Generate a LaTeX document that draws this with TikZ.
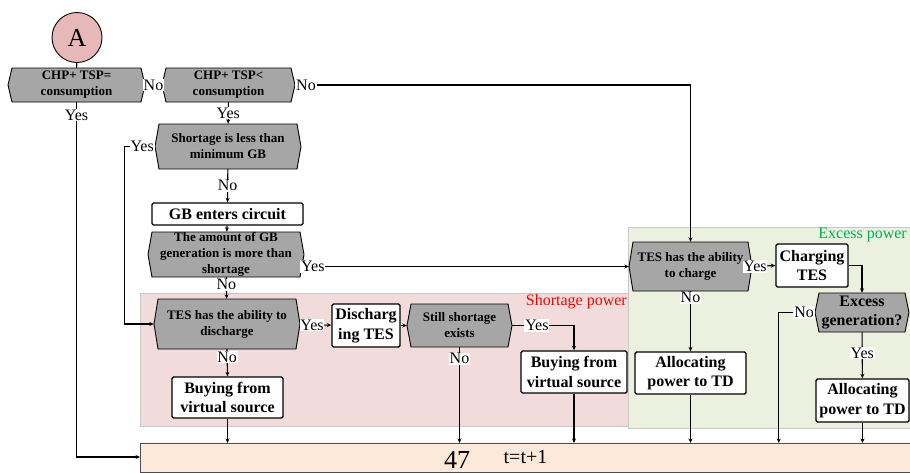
\documentclass[tikz,border=0pt]{standalone}
\usepackage{fontspec}
\setmainfont{Liberation Serif}
\usetikzlibrary{arrows.meta}

\definecolor{hexgray}{HTML}{A6A6A6}
\definecolor{shortbg}{HTML}{F2DCDB}
\definecolor{excessbg}{HTML}{EBF1DE}
\definecolor{stepbg}{HTML}{FDE9D9}
\definecolor{startbg}{HTML}{E6B9B8}
\definecolor{regionedge}{HTML}{C8C8C8}
\definecolor{excessgreen}{HTML}{00B050}

\newcommand{\hexfont}{\fontsize{13}{16}\selectfont\bfseries}
\newcommand{\boxfont}{\fontsize{16}{19.5}\selectfont\bfseries}

% decision block: [font], name, x, y, width, height, text
\newcommand{\hexbox}[7][\hexfont]{%
  \filldraw[fill=hexgray, draw=black, line width=0.9pt]
    ({#3-#5/2},#4) -- ({#3-#5/2+4},{#4-#6/2}) -- ({#3+#5/2-4},{#4-#6/2})
    -- ({#3+#5/2},#4) -- ({#3+#5/2-4},{#4+#6/2}) -- ({#3-#5/2+4},{#4+#6/2}) -- cycle;
  \node[hextext, font=#1, minimum width=#5pt, minimum height=#6pt] (#2) at (#3,#4) {#7};}

\tikzset{
  hextext/.style={rectangle, draw=none, inner sep=0pt, align=center},
  procbox/.style={rectangle, draw=black, fill=white, line width=1.4pt, rounded corners=1.5pt,
    inner sep=0pt, align=center, font=\boxfont},
  conn/.style={draw=black, line width=1.1pt},
  arr/.style={conn, -{Stealth[length=4.5pt,width=4pt]}},
  lbl/.style={fill=white, inner sep=0.8pt, font=\fontsize{16}{16}\selectfont},
  region/.style={draw=regionedge, line width=0.8pt},
  regionlbl/.style={inner sep=0pt, font=\fontsize{16}{16}\selectfont},
}

\begin{document}
\begin{tikzpicture}[x=1pt,y=-1pt]
\useasboundingbox (0,0) rectangle (910,472);

% shaded regions
\filldraw[region, fill=shortbg] (140,293) rectangle (629,426);
\filldraw[region, fill=excessbg] (628,227) rectangle (925,428);
\node[regionlbl, anchor=east, text=red] (shortlbl) at (627,302) {Shortage power};
\node[regionlbl, anchor=east, text=excessgreen] (excesslbl) at (907,235) {Excess power};

% time step bar
\filldraw[fill=stepbg, draw=black!70, line width=1pt] (140,443) rectangle (925,472);
\coordinate (botW) at (140,457);
\node[anchor=base, inner sep=0pt, font=\fontsize{26}{26}\selectfont] (pg) at (457,468) {47};
\node[anchor=base, inner sep=0pt, font=\fontsize{20}{20}\selectfont] (tstep) at (525.5,463) {t=t+1};

% start
\node[circle, draw=black, line width=0.9pt, fill=startbg, minimum size=50pt, inner sep=0pt,
  font=\fontsize{26}{26}\selectfont] (A) at (77,37.5) {A};

% decisions
\hexbox{h1}{76.5}{85}{137}{34}{CHP+ TSP=\\consumption}
\hexbox{h2}{228.5}{85}{133}{34}{CHP+ TSP<\\consumption}
\hexbox{h3}{228}{146.5}{146}{45}{Shortage is less than\\minimum GB}
\hexbox{h4}{226}{254.5}{156}{45}{The amount of GB\\generation is more than\\shortage}
\hexbox{td}{227}{324}{146}{50}{TES has the ability to\\discharge}
\hexbox{ss}{459.5}{325.5}{105}{43}{Still shortage\\exists}
\hexbox{tc}{690.5}{266.5}{123}{49}{TES has the ability\\to charge}
\hexbox[\boxfont]{eg}{862}{312.5}{94}{39}{Excess\\generation?}

% processes
\node[procbox, minimum width=151pt, minimum height=22pt] (gb) at (227.5,214) {GB enters circuit};
\node[procbox, minimum width=68pt, minimum height=43pt] (dis) at (366,325.5) {Discharg\\ing TES};
\node[procbox, minimum width=111pt, minimum height=41pt] (buy1) at (227.5,397.5) {Buying from\\virtual source};
\node[procbox, minimum width=106pt, minimum height=42pt] (buy2) at (574,372) {Buying from\\virtual source};
\node[procbox, minimum width=72pt, minimum height=43pt] (ch) at (812,265.5) {Charging\\TES};
\node[procbox, minimum width=111pt, minimum height=42pt] (al1) at (690.5,373) {Allocating\\power to TD};
\node[procbox, minimum width=93pt, minimum height=43pt] (al2) at (862.5,400.5) {Allocating\\power to TD};

% connectors
\draw[conn] (A) -- (h1);
\draw[conn] (h1) -- node[lbl]{No} (h2);
\draw[arr] (h2.east) -- (tc.north |- h2.east) -- (tc.north);
\node[lbl, anchor=west] at (h2.east) {No};
\draw[arr] (h1.south) -- ++(0,13) node[lbl]{Yes} -- (h1.south |- botW) -- (botW);
\draw[arr] (h2) -- node[lbl]{Yes} (h3);
\draw[arr] (h3.west) -- ++(-30,0) |- (td.west);
\node[lbl, anchor=east] at (h3.west) {Yes};
\draw[arr] (h3) -- node[lbl]{No} (gb);
\draw[arr] (gb) -- (h4);
\draw[arr] ([xshift=-3pt]h4.east |- tc.west) -- (tc.west);
\node[lbl, anchor=west, xshift=-4pt] at (h4.east |- tc.west) {Yes};
\draw[arr] (h4) -- node[lbl, pos=0.35]{No} (td);
\draw[arr] (td) -- node[lbl, pos=0.38]{Yes} (dis);
\draw[arr] (dis) -- (ss);
\draw[arr] (ss.east) -- node[lbl, pos=0.4]{Yes} (ss.east -| buy2.north) -- (buy2.north);
\draw[arr] (ss.south) -- node[lbl, pos=0.12]{No} (ss.south |- 0,443);
\draw[arr] (td.south) -- node[lbl, pos=0.3]{No} (buy1.north);
\draw[arr] (buy1.south) -- (buy1.south |- 0,443);
\draw[arr] (buy2.south) -- (buy2.south |- 0,443);
\draw[arr] (tc.east) -- node[lbl, pos=0.12]{Yes} (ch.west);
\draw[arr] (tc.south) -- node[lbl, pos=0.11]{No} (al1.north);
\draw[arr] (al1.south) -- (al1.south |- 0,443);
\draw[arr] (ch.east) -| (eg.north);
\draw[arr] (eg.west) -- ++(-36,0) coordinate (egno) -- (egno |- 0,443);
\node[lbl, anchor=east] at (eg.west) {No};
\draw[arr] (eg) -- node[lbl, pos=0.45]{Yes} (al2);
\draw[arr] (al2.south) -- (al2.south |- 0,443);
\end{tikzpicture}
\end{document}
